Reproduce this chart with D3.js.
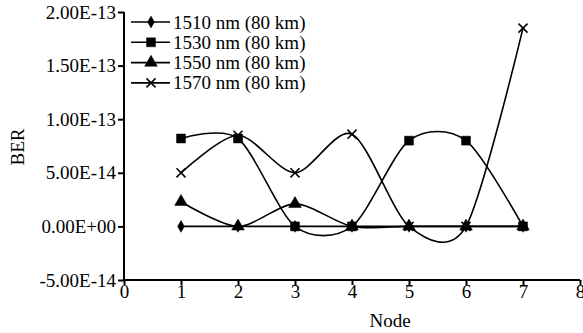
<!DOCTYPE html>
<html>
<head>
<meta charset="utf-8">
<script src="https://cdn.jsdelivr.net/npm/d3@7"></script>
<style>
  body { margin: 0; background: #fff; }
  svg { display: block; }
  svg text { font-family: "Liberation Serif", "Times New Roman", serif; fill: #000; }
</style>
</head>
<body>
<svg id="chart" width="583" height="333"></svg>
<script>
// data
const nodes = [1, 2, 3, 4, 5, 6, 7];
const series = [
  { name: '1510 nm (80 km)', marker: 'diamond', values: [0, 0, 0, 0, 0, 0, 0] },
  { name: '1530 nm (80 km)', marker: 'square', values: [8.2e-14, 8.2e-14, 0, 0, 8.0e-14, 8.0e-14, 0] },
  { name: '1550 nm (80 km)', marker: 'triangle', values: [2.3e-14, 0, 2.1e-14, 0, 0, 0, 0] },
  { name: '1570 nm (80 km)', marker: 'cross', values: [5.0e-14, 8.5e-14, 5.0e-14, 8.6e-14, 0, 0, 1.85e-13] }
];
const yTicks = [-5e-14, 0, 5e-14, 1e-13, 1.5e-13, 2e-13];
const yTickLabels = ['-5.00E-14', '0.00E+00', '5.00E-14', '1.00E-13', '1.50E-13', '2.00E-13'];
const xTicks = [0, 1, 2, 3, 4, 5, 6, 7, 8];

const fontSize = 19;
const svg = d3.select('#chart');

const x = d3.scaleLinear().domain([0, 8]).range([124, 580]);
const y = d3.scaleLinear().domain([-5e-14, 2e-13]).range([280, 12]);

// axes
const yAxis = g => g
  .attr('transform', 'translate(124,0)')
  .call(d3.axisLeft(y).tickValues(yTicks).tickSize(6).tickPadding(2)
    .tickFormat((d, i) => yTickLabels[i]))
  .call(g => g.select('.domain').attr('stroke-width', 2).attr('d', 'M0,12V280'))
  .call(g => g.selectAll('.tick line').attr('stroke-width', 2))
  .call(g => g.selectAll('.tick text').attr('font-size', fontSize).attr('font-family', null));

const xAxis = g => g
  .attr('transform', 'translate(0,280)')
  .call(d3.axisBottom(x).tickValues(xTicks).tickSize(5).tickPadding(0))
  .call(g => g.select('.domain').attr('stroke-width', 2).attr('d', 'M124,0H580'))
  .call(g => g.selectAll('.tick line').attr('stroke-width', 2))
  .call(g => g.selectAll('.tick text').attr('font-size', fontSize).attr('font-family', null));

svg.append('g').call(yAxis).attr('font-family', null);
svg.append('g').call(xAxis).attr('font-family', null);

svg.append('text')
  .attr('x', 390).attr('y', 327)
  .attr('text-anchor', 'middle')
  .attr('font-size', fontSize)
  .text('Node');

svg.append('text')
  .attr('transform', 'translate(24,147) rotate(-90)')
  .attr('text-anchor', 'middle')
  .attr('font-size', fontSize)
  .text('BER');

// markers
const symbols = {
  diamond: d3.symbol().type(d3.symbolDiamond).size(40),
  square: d3.symbol().type(d3.symbolSquare).size(80),
  triangle: d3.symbol().type(d3.symbolTriangle).size(70),
  cross: d3.symbol().type(d3.symbolX).size(55)
};

const line = d3.line()
  .x((d, i) => x(nodes[i]))
  .y(d => y(d))
  .curve(d3.curveCardinal.tension(0.15));

const plot = svg.append('g');

series.forEach(s => {
  plot.append('path')
    .attr('d', line(s.values))
    .attr('fill', 'none')
    .attr('stroke', '#000')
    .attr('stroke-width', 1.6);

  plot.selectAll(null)
    .data(s.values)
    .enter()
    .append('path')
    .attr('transform', (d, i) => `translate(${x(nodes[i])},${y(d)})`)
    .attr('d', symbols[s.marker])
    .attr('fill', s.marker === 'cross' ? 'none' : '#000')
    .attr('stroke', '#000')
    .attr('stroke-width', s.marker === 'cross' ? 1.6 : 0.5);
});

// legend
const legend = svg.append('g')
  .selectAll('g')
  .data(series)
  .enter()
  .append('g')
  .attr('transform', (d, i) => `translate(131,${22 + i * 20.3})`);

legend.append('line')
  .attr('x1', 0).attr('x2', 39)
  .attr('stroke', '#000').attr('stroke-width', 1.6);

legend.append('path')
  .attr('transform', 'translate(20,0)')
  .attr('d', d => symbols[d.marker]())
  .attr('fill', d => d.marker === 'cross' ? 'none' : '#000')
  .attr('stroke', '#000')
  .attr('stroke-width', d => d.marker === 'cross' ? 1.6 : 0.5);

legend.append('text')
  .attr('x', 42).attr('y', 6.5)
  .attr('font-size', fontSize)
  .text(d => d.name);
</script>
</body>
</html>
